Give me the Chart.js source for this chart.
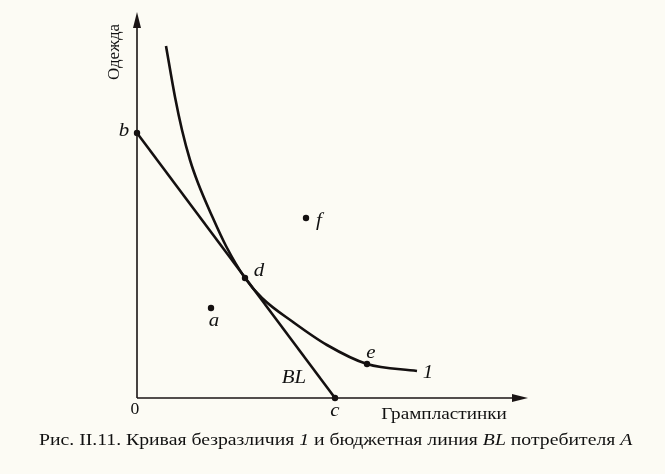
<!DOCTYPE html>
<html>
<head>
<meta charset="utf-8">
<script src="https://cdn.jsdelivr.net/npm/chart.js@4.4.0/dist/chart.umd.min.js"></script>
<style>
  html, body { margin: 0; padding: 0; background: #fcfbf4; }
  canvas { display: block; }
</style>
</head>
<body>
<canvas id="chart" width="665" height="474"></canvas>
<script>
// Данные (условные единицы)
const budgetLine = [{x: 0, y: 13.25}, {x: 9.9, y: 0}];
const indiffX = [1.45, 1.9, 2.25, 2.65, 3.05, 3.75, 4.45, 5.4, 6.25, 7.8, 9.5, 11.5, 14.0];
const indiffY = [17.6, 15.05, 13.4, 11.9, 10.75, 9.1, 7.6, 6.0, 5.0, 3.8, 2.65, 1.7, 1.35];
const pointNames = ['b', 'c', 'd', 'a', 'f', 'e'];
const pointX = [0, 9.9, 5.4, 3.7, 8.45, 11.5];
const pointY = [13.25, 0, 6.0, 4.5, 9.0, 1.7];
const xMax = 19.55;
const yMax = 19.3;

// смещения подписей точек (px)
const labelOffsets = {b: [-13, -2], c: [0, 13], d: [14, -7], a: [3, 13], f: [13, 3], e: [4, -11]};

const curve = indiffX.map((x, i) => ({x: x, y: indiffY[i]}));
const points = pointX.map((x, i) => ({x: x, y: pointY[i]}));

// текст, растянутый по горизонтали (как на скане)
function stretchText(ctx, text, x, y, sx) {
    ctx.save();
    ctx.translate(x, y);
    ctx.scale(sx, 1);
    ctx.fillText(text, 0, 0);
    ctx.restore();
}

const labelsPlugin = {
    id: 'labels',
    afterDatasetsDraw(chart) {
        const ctx = chart.ctx;
        const xs = chart.scales.x, ys = chart.scales.y;
        const x0 = xs.getPixelForValue(0), y0 = ys.getPixelForValue(0);
        const x1 = xs.getPixelForValue(xMax), y1 = ys.getPixelForValue(yMax);
        ctx.save();
        // оси
        ctx.strokeStyle = '#1a1414';
        ctx.lineWidth = 1.6;
        ctx.beginPath();
        ctx.moveTo(x0, y0); ctx.lineTo(x0, y1 + 6);
        ctx.moveTo(x0, y0); ctx.lineTo(x1 - 6, y0);
        ctx.stroke();
        ctx.fillStyle = '#1a1414';
        ctx.beginPath();
        ctx.moveTo(x0, y1); ctx.lineTo(x0 - 4, y1 + 16); ctx.lineTo(x0 + 4, y1 + 16); ctx.closePath();
        ctx.fill();
        ctx.beginPath();
        ctx.moveTo(x1, y0); ctx.lineTo(x1 - 16, y0 - 4); ctx.lineTo(x1 - 16, y0 + 4); ctx.closePath();
        ctx.fill();

        ctx.fillStyle = '#111';
        ctx.textAlign = 'center';
        ctx.textBaseline = 'middle';
        // подписи точек
        ctx.font = 'italic 19px "Liberation Serif"';
        pointNames.forEach((n, i) => {
            const off = labelOffsets[n];
            stretchText(ctx, n, xs.getPixelForValue(pointX[i]) + off[0], ys.getPixelForValue(pointY[i]) + off[1], 1.1);
        });
        const last = curve[curve.length - 1];
        stretchText(ctx, '1', xs.getPixelForValue(last.x) + 11, ys.getPixelForValue(last.y) + 2, 1.1);
        stretchText(ctx, 'BL', xs.getPixelForValue(7.85), ys.getPixelForValue(1.0), 1.1);

        ctx.font = '16px "Liberation Serif"';
        stretchText(ctx, '0', x0 - 2, y0 + 12, 1.1);
        stretchText(ctx, 'Грампластинки', 444, 415, 1.2);

        ctx.save();
        ctx.translate(115, 52);
        ctx.rotate(-Math.PI / 2);
        ctx.font = '17px "Liberation Serif"';
        ctx.fillText('Одежда', 0, 0);
        ctx.restore();

        // подпись рисунка
        ctx.save();
        ctx.translate(39, 441);
        ctx.scale(1.16, 1);
        ctx.textAlign = 'left';
        const parts = [
            ['Рис. II.11. Кривая безразличия ', '17px "Liberation Serif"'],
            ['1', 'italic 17px "Liberation Serif"'],
            [' и бюджетная линия ', '17px "Liberation Serif"'],
            ['BL', 'italic 17px "Liberation Serif"'],
            [' потребителя ', '17px "Liberation Serif"'],
            ['A', 'italic 17px "Liberation Serif"']
        ];
        let cx = 0;
        parts.forEach(p => {
            ctx.font = p[1];
            ctx.fillText(p[0], cx, 0);
            cx += ctx.measureText(p[0]).width;
        });
        ctx.restore();
        ctx.restore();
    }
};

new Chart(document.getElementById('chart').getContext('2d'), {
    type: 'scatter',
    data: {
        datasets: [
            {
                data: budgetLine,
                showLine: true,
                borderColor: '#141010',
                borderWidth: 2.6,
                pointRadius: 0
            },
            {
                data: curve,
                showLine: true,
                cubicInterpolationMode: 'monotone',
                borderColor: '#141010',
                borderWidth: 2.6,
                pointRadius: 0
            },
            {
                data: points,
                showLine: false,
                pointRadius: 3.2,
                pointBackgroundColor: '#141010',
                pointBorderWidth: 0
            }
        ]
    },
    options: {
        responsive: false,
        animation: false,
        clip: false,
        layout: { padding: { left: 137, right: 137, top: 12, bottom: 76 } },
        plugins: { legend: { display: false }, tooltip: { enabled: false } },
        scales: {
            x: { type: 'linear', min: 0, max: xMax, display: false },
            y: { type: 'linear', min: 0, max: yMax, display: false }
        }
    },
    plugins: [labelsPlugin]
});
</script>
</body>
</html>
